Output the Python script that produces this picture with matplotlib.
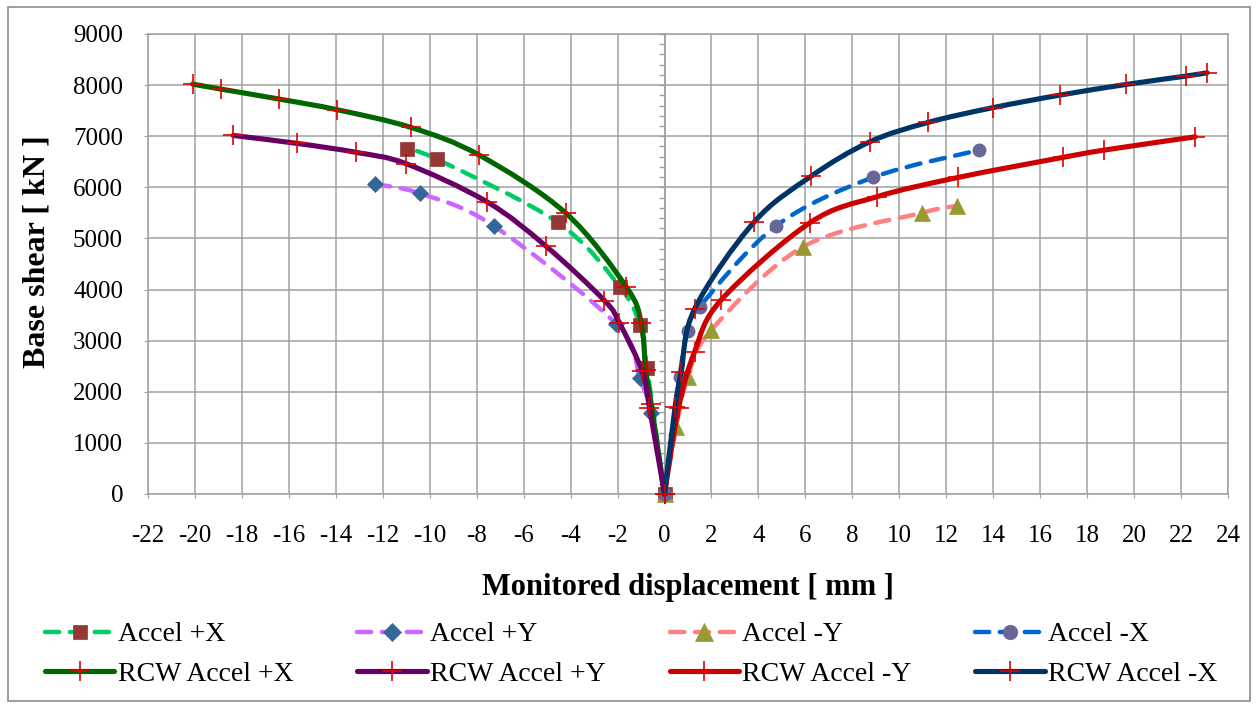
import numpy as np
import matplotlib
matplotlib.use("Agg")
import matplotlib.pyplot as plt
from matplotlib.path import Path
from matplotlib.patches import PathPatch, Rectangle
from matplotlib.lines import Line2D
from matplotlib.ticker import MultipleLocator

plt.rcParams['font.family'] = ['Liberation Serif', 'DejaVu Serif']

# ---------------- data ----------------
x_ticks = list(range(-22, 25, 2))
y_ticks = list(range(0, 9001, 1000))

acc_px_x = [0, -0.74, -1.05, -1.9, -4.55, -9.68, -10.97]
acc_px_y = [0, 2456, 3300, 4053, 5313, 6546, 6742]

acc_py_x = [0, -0.57, -1.05, -2.05, -7.28, -10.4, -12.32]
acc_py_y = [0, 1590, 2260, 3320, 5247, 5880, 6063]

acc_my_x = [0, 0.5, 0.99, 1.99, 5.9, 10.95, 12.47]
acc_my_y = [0, 1313, 2280, 3205, 4836, 5501, 5638]

acc_mx_x = [0, 0.64, 0.99, 1.49, 4.76, 8.88, 13.39]
acc_mx_y = [0, 2290, 3192, 3661, 5247, 6194, 6728]

rcw_px_x = [0, -0.57, -0.8, -0.99, -1.63, -4.19, -7.89, -10.8, -13.93, -16.4, -18.9, -20.1]
rcw_px_y = [0, 1770, 2430, 3346, 4053, 5489, 6630, 7172, 7517, 7726, 7922, 8020]

rcw_py_x = [0, -0.64, -0.95, -1.92, -2.56, -5.05, -7.56, -10.99, -13.12, -15.64, -18.37]
rcw_py_y = [0, 1685, 2400, 3346, 3785, 4849, 5716, 6460, 6683, 6859, 7015]

rcw_my_x = [0, 0.6, 1.28, 2.4, 6.18, 9.03, 12.51, 16.96, 18.72, 22.6]
rcw_my_y = [0, 1690, 2780, 3790, 5303, 5814, 6194, 6585, 6728, 6988]

rcw_mx_x = [0, 0.45, 0.71, 1.28, 3.80, 6.25, 8.74, 11.23, 14.0, 16.84, 19.66, 22.2, 23.11]
rcw_mx_y = [0, 1700, 2389, 3620, 5313, 6219, 6890, 7270, 7560, 7804, 8013, 8176, 8241]

labels = ["Accel +X", "Accel +Y", "Accel -Y", "Accel -X",
          "RCW Accel +X", "RCW Accel +Y", "RCW Accel -Y", "RCW Accel -X"]

# ---------------- styles ----------------
PLUS = '#E00000'
DASH = (0, (3.2, 2.4))
series = [
    # x, y, line colour, linestyle, lw, marker, marker size, marker face
    (acc_px_x, acc_px_y, '#00CC66', DASH, 3.2, 's', 9.5, '#953735'),
    (acc_py_x, acc_py_y, '#CC66FF', DASH, 3.2, 'D', 8.5, '#336699'),
    (acc_my_x, acc_my_y, '#FF8080', DASH, 3.2, '^', 11.5, '#999933'),
    (acc_mx_x, acc_mx_y, '#0066CC', DASH, 3.2, 'o', 9.5, '#666699'),
    (rcw_px_x, rcw_px_y, '#006600', '-', 3.7, '+', 15, PLUS),
    (rcw_py_x, rcw_py_y, '#660066', '-', 3.7, '+', 15, PLUS),
    (rcw_my_x, rcw_my_y, '#CC0000', '-', 3.7, '+', 15, PLUS),
    (rcw_mx_x, rcw_mx_y, '#003366', '-', 3.7, '+', 15, PLUS),
]
legend_order = [0, 4, 1, 5, 2, 6, 3, 7]


def smooth_path(xs, ys):
    P = np.column_stack([xs, ys]).astype(float)
    n = len(P)
    verts = [P[0]]
    codes = [Path.MOVETO]
    for i in range(n - 1):
        p0 = P[i - 1] if i > 0 else P[i]
        p1 = P[i]
        p2 = P[i + 1]
        p3 = P[i + 2] if i + 2 < n else P[i + 1]
        c1 = p1 + (p2 - p0) / 6.0
        c2 = p2 - (p3 - p1) / 6.0
        verts += [c1, c2, p2]
        codes += [Path.CURVE4] * 3
    return Path(verts, codes)


# ---------------- figure ----------------
W, H = 1257, 705
fig = plt.figure(figsize=(W / 100, H / 100), dpi=100)
fig.patch.set_facecolor('white')
fig.patches.append(Rectangle((8 / W, 4 / H), 1242 / W, 694 / H, transform=fig.transFigure,
                             fill=False, edgecolor='#8C8C8C', linewidth=1.2))

ax = fig.add_axes([148 / W, 1 - 494 / H, (1228 - 148) / W, (494 - 34) / H])
ax.set_xlim(-22, 24)
ax.set_ylim(0, 9000)
ax.set_xticks(x_ticks)
ax.set_yticks(y_ticks)
ax.set_xticklabels([str(v) for v in x_ticks])
ax.set_yticklabels([str(v) for v in y_ticks])
GRID = '#A0A0A0'
ax.grid(True, color=GRID, linewidth=1.1)
ax.set_axisbelow(True)
for s in ax.spines.values():
    s.set_color(GRID)
    s.set_linewidth(1.1)
ax.tick_params(axis='both', which='major', direction='out', length=3, color=GRID,
               labelsize=18)
ax.tick_params(axis='y', pad=15)
ax.tick_params(axis='x', pad=19)

# vertical axis at x = 0 with minor ticks
sec = ax.secondary_yaxis(22 / 46)
sec.set_yticks([])
sec.yaxis.set_minor_locator(MultipleLocator(200))
sec.tick_params(which='minor', direction='out', length=4, color=GRID, width=1.0,
                labelleft=False)
sec.spines['left'].set_color(GRID)
sec.spines['left'].set_linewidth(1.1)

handles = []
for k, (xs, ys, lc, ls, lw, mk, ms, mf) in enumerate(series):
    z = 3 + k * 0.1
    patch = PathPatch(smooth_path(xs, ys), fill=False, edgecolor=lc, linewidth=lw,
                      linestyle=ls, capstyle='round', joinstyle='round', zorder=z,
                      clip_on=False)
    ax.add_patch(patch)
    if mk == '+':
        ax.plot(xs, ys, ls='none', marker=mk, ms=ms, mec=mf, mew=1.2, zorder=z + 0.05,
                clip_on=False)
        h = Line2D([], [], color=lc, lw=lw, ls=ls, marker=mk, ms=ms, mec=mf, mew=1.2,
                   solid_capstyle='round')
    else:
        ax.plot(xs, ys, ls='none', marker=mk, ms=ms, mfc=mf, mec=mf, mew=0.5,
                zorder=z + 0.05, clip_on=False)
        h = Line2D([], [], color=lc, lw=lw, ls=ls, marker=mk, ms=ms * 1.1, mfc=mf, mec=mf,
                   mew=0.5, dash_capstyle='round')
    handles.append(h)

fig.text(37 / W, 1 - 252 / H, "Base shear [ kN ]", rotation=90, ha='center',
         va='center', fontsize=23, fontweight='bold')
fig.text(688 / W, 1 - 588 / H, "Monitored displacement [ mm ]", ha='center',
         va='center', fontsize=22, fontweight='bold')

lh = [handles[i] for i in legend_order]
ll = [labels[i] for i in legend_order]
fig.legend(lh, ll, ncol=4, loc='upper left', bbox_to_anchor=(45 / W, 1 - 622 / H),
           frameon=False, fontsize=20, handlelength=2.5, handletextpad=0.12,
           columnspacing=2.3, labelspacing=0.5, borderpad=0, borderaxespad=0,
           numpoints=1)

fig.savefig("out.png", dpi=100)
